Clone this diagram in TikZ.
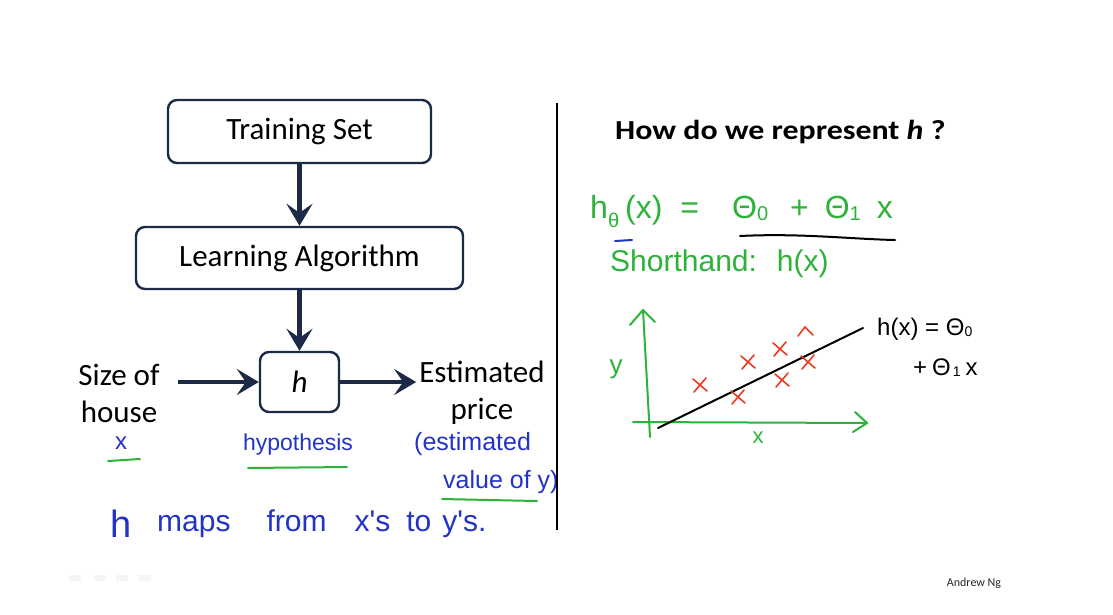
\documentclass[tikz,border=0pt]{standalone}
\usepackage{fontspec}
\setmainfont{Carlito}
\newfontfamily\hand{Liberation Sans}
\usetikzlibrary{arrows.meta}
\definecolor{navy}{HTML}{1C2A48}
\definecolor{pengreen}{HTML}{2DB33A}
\definecolor{penblue}{HTML}{2233C8}
\definecolor{penred}{HTML}{EB3A22}
\newcommand{\lowsub}[2]{\raisebox{#1}{\fontsize{20}{22}\selectfont #2}}
\begin{document}
\begin{tikzpicture}[x=1pt,y=-1pt,
  box/.style={draw=navy,line width=2.4pt,rounded corners=9pt,fill=white,
    font=\fontsize{31}{37}\selectfont,inner sep=0pt},
  lbl/.style={font=\fontsize{31}{37}\selectfont,align=center,inner sep=0pt},
  flow/.style={navy,line width=4.5pt,-{Stealth[length=22pt,width=26pt,inset=9pt]}},
  handblue/.style={penblue,font=\hand\fontsize{24}{28}\selectfont,inner sep=0pt,anchor=base},
  handgreen/.style={pengreen,font=\hand\fontsize{30}{34}\selectfont,inner sep=0pt,anchor=base west},
  handblack/.style={black,font=\hand\fontsize{24}{28}\selectfont,inner sep=0pt,anchor=base west},
  ink/.style={line width=2pt,line cap=round,line join=round},
  cross/.style={penred,line width=1.6pt,line cap=round}]
\useasboundingbox[fill=white] (0,0) rectangle (1113,614);

% ---- flow chart ----
\node[box,minimum width=263pt,minimum height=63pt] (ts) at (299.5,131.5) {Training Set};
\node[box,minimum width=327pt,minimum height=62pt] (la) at (299.5,258) {Learning Algorithm};
\node[box,minimum width=79pt,minimum height=60pt] (h) at (299.5,382) {\textit{h}};
\node[lbl] (size) at (119,393) {Size of\\house};
\node[lbl] (est) at (482,393) {Estimated\\price};

\draw[flow] (ts) -- (la);
\draw[flow] (la) -- (h);
\draw[flow] ([xshift=18pt]size.east |- h) -- (h.west);
\draw[flow] (h.east) -- ([xshift=-3pt]est.west |- h);

% ---- notes under the chart ----
\node[handblue,font=\hand\fontsize{24}{28}\selectfont] (xin) at (121,449) {x};
\draw[ink,pengreen] (108,461) -- (140,459);
\node[handblue,font=\hand\fontsize{23}{27}\selectfont] (hyp) at (298,450) {hypothesis};
\draw[ink,pengreen] (248,468) -- (347,467);
\node[handblue,anchor=base west,font=\hand\fontsize{25}{29}\selectfont] (est1) at (414,450) {(estimated};
\node[handblue,anchor=base west,font=\hand\fontsize{25}{29}\selectfont] (est2) at (443,488) {value of y)};
\draw[ink,pengreen] (442,499) -- (537,501);
\node[handblue,anchor=base west,font=\hand\fontsize{38}{42}\selectfont] (hm) at (110,537) {h};
\node[handblue,anchor=base west,font=\hand\fontsize{30}{34}\selectfont] (maps) at (157,531)
  {maps\hspace{36pt}from\hspace{28pt}x's\hspace{16pt}to\hspace{11pt}y's.};

% ---- divider ----
\draw[line width=2pt] (557,103) -- (557,530);

% ---- right side ----
\node[font=\bfseries\fontsize{27.5}{32}\selectfont,anchor=base west,inner sep=0pt] (q) at (615,139)
  {\scalebox{1.16}[1]{How do we represent \textit{h} ?}};

\node[handgreen,font=\hand\fontsize{32}{36}\selectfont] (hyp2) at (590,218)
  {h\lowsub{-9pt}{θ}\hspace{6pt}(x)\hspace{18pt}=\hspace{33pt}Θ\lowsub{-2pt}{0}\hspace{22pt}+\hspace{16pt}Θ\lowsub{-2pt}{1}\hspace{16pt}x};
\draw[ink,black] (740,236) .. controls (800,233) and (850,239) .. (895,240);
\draw[ink,penblue] (615,241) -- (632,240);
\node[handgreen] (short) at (610,271) {Shorthand:\hspace{20pt}h(x)};

% axes
\draw[ink,pengreen] (650,437) -- (643,310);
\draw[ink,pengreen] (630,325) -- (643,310) -- (655,322);
\draw[ink,pengreen] (633,422) -- (867,423);
\draw[ink,pengreen] (855,412) -- (867,423) -- (853,432);
\node[pengreen,font=\hand\fontsize{26}{30}\selectfont,inner sep=0pt] (ylab) at (616,369) {y};
\node[pengreen,font=\hand\fontsize{22}{26}\selectfont,inner sep=0pt,anchor=base] (xlab) at (758,443) {x};

% fitted line
\draw[ink,black] (658,428) -- (863,328);
\node[handblack] (hx1) at (877,335) {h(x) = Θ\raisebox{-1pt}{\fontsize{14}{15}\selectfont 0}};
\node[handblack] (hx2) at (913,375) {+\hspace{5pt}Θ\hspace{2pt}\raisebox{-1pt}{\fontsize{14}{15}\selectfont 1}\hspace{5pt}x};

% data points
\foreach \px/\py in {700/385, 748/362, 780/349, 808/362, 782/380, 738/397}{
  \draw[cross] (\px-7,\py-6) -- (\px+7,\py+6);
  \draw[cross] (\px-6,\py+7) -- (\px+6,\py-7);
}
\draw[cross] (798,336) -- (805,327) -- (813,335);

% footer
\node[font=\fontsize{12}{14}\selectfont,text=black!85,inner sep=0pt] (author) at (974,583) {Andrew Ng};
\foreach \ix in {75,100,122,145}{
  \fill[black!4] (\ix-6,575) rectangle (\ix+6,581);
}
\end{tikzpicture}
\end{document}
